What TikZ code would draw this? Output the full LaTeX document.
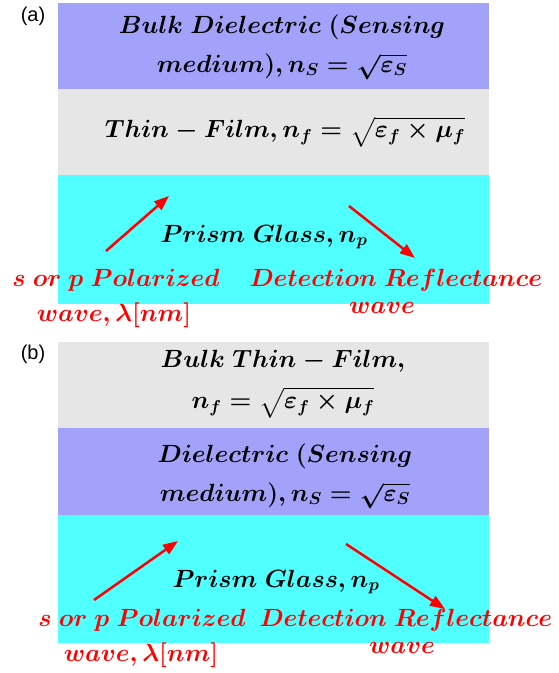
\documentclass[tikz,border=0pt]{standalone}
\usepackage{amsmath}
\usepackage{fontspec}
\newfontfamily\labelfont{Liberation Sans}
\usetikzlibrary{arrows.meta}
\definecolor{dielec}{RGB}{162,162,250}
\definecolor{film}{RGB}{230,230,230}
\definecolor{prism}{RGB}{80,255,255}
\tikzset{
  layertext/.style={font=\fontsize{25}{39}\selectfont, inner sep=0pt, align=center},
  wavetext/.style={font=\fontsize{24}{28}\selectfont, text=red, inner sep=0pt},
  ray/.style={red, line width=2.5pt, -{Triangle[length=15pt,width=11pt]}},
  panel/.style={font=\labelfont\fontsize{20}{24}\selectfont, inner sep=0pt}
}
\begin{document}
\begin{tikzpicture}[x=1pt, y=-1pt]
\useasboundingbox (0,0) rectangle (558,673);
% panel (a)
\fill[dielec] (58,3) rectangle (489,89);
\fill[film] (58,89) rectangle (489,175);
\fill[prism] (58,175) rectangle (489,304);
\node[panel] (la) at (33,16) {(a)};
\node[layertext] (bulka) at (282,47) {$\boldsymbol{Bulk\ Dielectric\ (Sensing}$\\ $\boldsymbol{medium), n_S=\sqrt{\varepsilon_S}}$};
\node[layertext] (filma) at (285,132) {$\boldsymbol{Thin-Film, n_f=\sqrt{\varepsilon_f\times\mu_f}}$};
\node[layertext] (prisma) at (264,237) {$\boldsymbol{Prism\ Glass, n_p}$};
\coordinate (ina) at (106,251);
\coordinate (hita) at (169,196);
\coordinate (outa) at (349,206);
\coordinate (deta) at (415,258);
\draw[ray] (ina) -- (hita);
\draw[ray] (outa) -- (deta);
\node[wavetext] (pola) at (116,280) {$\boldsymbol{s\ or\ p\ Polarized}$};
\node[wavetext] (lama) at (114,315) {$\boldsymbol{wave, \lambda[nm]}$};
\node[wavetext] (refa) at (396,280) {$\boldsymbol{Detection\ Reflectance}$};
\node[wavetext] (wava) at (382,308) {$\boldsymbol{wave}$};
% panel (b)
\fill[film] (58,342) rectangle (489,428);
\fill[dielec] (58,428) rectangle (489,515);
\fill[prism] (58,515) rectangle (489,643);
\node[panel] (lb) at (33,354) {(b)};
\node[layertext, font=\fontsize{25}{41}\selectfont] (bulkb) at (283,384) {$\boldsymbol{Bulk\ Thin-Film,}$\\ $\boldsymbol{n_f=\sqrt{\varepsilon_f\times\mu_f}}$};
\node[layertext] (dielb) at (285,476) {$\boldsymbol{Dielectric\ (Sensing}$\\ $\boldsymbol{medium), n_S=\sqrt{\varepsilon_S}}$};
\node[layertext] (prismb) at (276,582) {$\boldsymbol{Prism\ Glass, n_p}$};
\coordinate (inb) at (94,600);
\coordinate (hitb) at (178,541);
\coordinate (outb) at (346,544);
\coordinate (detb) at (445,609);
\draw[ray] (inb) -- (hitb);
\draw[ray] (outb) -- (detb);
\node[wavetext] (polb) at (142,620) {$\boldsymbol{s\ or\ p\ Polarized}$};
\node[wavetext] (lamb) at (141,655) {$\boldsymbol{wave, \lambda[nm]}$};
\node[wavetext] (refb) at (406,620) {$\boldsymbol{Detection\ Reflectance}$};
\node[wavetext] (wavb) at (402,648) {$\boldsymbol{wave}$};
\end{tikzpicture}
\end{document}
